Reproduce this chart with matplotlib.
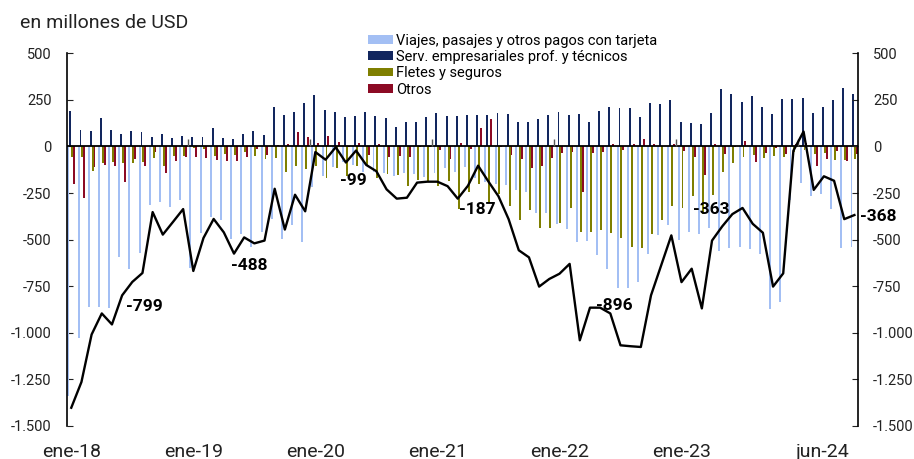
import numpy as np
import matplotlib
matplotlib.use("Agg")
import matplotlib.pyplot as plt
import matplotlib.transforms as mtransforms

plt.rcParams['font.family'] = ['Roboto', 'DejaVu Sans']
plt.rcParams['axes.unicode_minus'] = False

# datos mensuales ene-18 .. jun-24 (millones de USD)
nombres_mes = ['ene', 'feb', 'mar', 'abr', 'may', 'jun', 'jul', 'ago', 'sep', 'oct', 'nov', 'dic']
anios = ['18', '19', '20', '21', '22', '23', '24']
meses = [m + '-' + a for a in anios for m in nombres_mes][:78]

viajes = [-1338, -1030, -862, -864, -867, -591, -656, -572, -316, -298,
          -323, -289, -652, -466, -380, -393, -497, -469, -538, -457,
          -389, -497, -424, -511, -220, -161, -110, -85, -100, -135,
          -135, -145, -160, -145, -150, -165, -142, -117, -135, -111,
          -170, -188, -200, -205, -235, -245, -357, -358, -414, -441,
          -514, -505, -584, -658, -760, -760, -728, -575, -475, -420,
          -504, -459, -470, -438, -559, -545, -539, -548, -575, -871,
          -835, -289, -195, -267, -253, -337, -546, -538]
servicios = [191, 91, 85, 151, 91, 65, 82, 77, 53, 65,
             45, 56, 49, 49, 97, 43, 42, 66, 82, 61,
             214, 167, 185, 231, 277, 197, 187, 156, 165, 187,
             165, 151, 102, 131, 131, 157, 177, 163, 163, 167,
             169, 170, 180, 175, 130, 130, 146, 170, 184, 170,
             175, 130, 192, 212, 205, 205, 160, 231, 229, 250,
             131, 126, 120, 182, 311, 281, 237, 270, 210, 176,
             253, 253, 262, 177, 210, 250, 315, 280]
fletes = [-55, -55, -130, -90, -85, -90, -87, -85, -63, -104,
          -49, -52, -9, -13, -50, -42, -47, -31, -51, -65,
          -61, -136, -105, -121, -105, -170, -118, -160, -107, -106,
          -170, -150, -154, -210, -180, -189, -210, -185, -333, -246,
          -200, -300, -257, -318, -395, -343, -440, -440, -410, -330,
          -459, -459, -448, -462, -492, -538, -546, -472, -394, -322,
          -330, -268, -365, -262, -139, -90, -58, -48, -62, -49,
          -55, -29, -20, -40, -37, -75, -74, -67]
otros = [-202, -275, -110, -100, -104, -189, -69, -104, -29, -140,
         -77, -56, -57, -63, -70, -80, -79, -56, -11, -47,
         9, 12, 79, 50, 18, 55, 22, -5, 18, -44,
         15, -58, -50, -57, -3, -3, -18, -67, 20, -12,
         97, 148, -5, -48, -68, -118, -105, -62, -37, -30,
         -242, -33, -28, 14, -21, 14, 41, 14, 0, 14,
         -23, -54, -152, 14, -39, -4, 30, -86, -36, -9,
         -39, 15, 21, -104, -68, -23, -80, -41]
total = [-1402, -1264, -1009, -896, -955, -799, -727, -679, -352, -473,
         -405, -336, -668, -491, -389, -461, -575, -488, -520, -505,
         -227, -446, -259, -348, -30, -71, -4, -86, -22, -99,
         -133, -230, -280, -275, -194, -189, -189, -213, -280, -211,
         -103, -187, -267, -390, -557, -595, -752, -711, -683, -630,
         -1040, -865, -865, -896, -1067, -1072, -1076, -799, -638, -477,
         -728, -656, -869, -505, -429, -363, -330, -415, -463, -752,
         -681, -23, 80, -233, -160, -184, -390, -368]

series = [('Viajes, pasajes y otros pagos con tarjeta', viajes, '#A3BFF4'),
          ('Serv. empresariales prof. y técnicos', servicios, '#12265E'),
          ('Fletes y seguros', fletes, '#7F7F00'),
          ('Otros', otros, '#8C0A24')]

# etiquetas de datos: cada junio
etiquetas = [(i, total[i]) for i, m in enumerate(meses) if m.startswith('jun')]
desplaz = {'jun-18': (16, -8), 'jun-19': (4, -20), 'jun-20': (-9, -11),
           'jun-21': (-8, -20), 'jun-22': (3, 6), 'jun-23': (-15, 3),
           'jun-24': (17, -1)}

x = np.arange(len(meses))
fig = plt.figure(figsize=(9.14, 4.59), dpi=100)
ax = fig.add_axes([0.0733, 0.0719, 0.8654, 0.812])

offs = [-0.285, -0.095, 0.095, 0.285]
for (nom, vals, col), o in zip(series, offs):
    ax.bar(x + o, vals, width=0.19, color=col, label=nom, zorder=2,
           linewidth=0, antialiased=False)

ax.axhline(0, color='black', lw=1.3, zorder=3)
ax.vlines(np.arange(11.5, len(meses), 12), 0, 38, color='#555555', lw=1, zorder=3)
ax.plot(x, total, color='black', lw=1.7, zorder=4)

for i, v in etiquetas:
    ax.annotate(f'{v:.0f}', (i, v), xytext=desplaz[meses[i]], textcoords='offset points',
                ha='center', va='center', fontsize=12.5, fontweight='bold', zorder=6)

ax.set_xlim(-0.42, 77.35)
ax.set_ylim(-1500, 500)
yt = np.arange(-1500, 501, 250)
ylab = [f'{v:,.0f}'.replace(',', '.') for v in yt]
ax.set_yticks(yt)
ax.set_yticklabels(ylab)
ax.tick_params(axis='y', direction='in', length=4, pad=11, labelsize=10.5, colors='#222222')

xt = [0, 12, 24, 36, 48, 60, 77]
ax.set_xticks(xt)
ax.set_xticklabels([meses[i] for i in xt])
ax.tick_params(axis='x', length=0, pad=12, labelsize=14, colors='#222222')
ult = ax.get_xticklabels()[-1]
ult.set_horizontalalignment('right')
ult.set_transform(ult.get_transform() + mtransforms.ScaledTranslation(-5 / 100, 0, fig.dpi_scale_trans))

for s in ['top', 'bottom', 'right']:
    ax.spines[s].set_visible(False)
ax.spines['left'].set_linewidth(1.2)

ax2 = ax.twinx()
ax2.set_ylim(-1500, 500)
ax2.set_yticks(yt)
ax2.set_yticklabels(ylab)
ax2.tick_params(axis='y', direction='in', length=4, pad=11, labelsize=10.5, colors='#222222')
for s in ['top', 'bottom', 'left']:
    ax2.spines[s].set_visible(False)
ax2.spines['right'].set_linewidth(1.2)

fig.legend(*ax.get_legend_handles_labels(), loc='upper left', bbox_to_anchor=(0.4026, 0.927),
           frameon=False, fontsize=10.5, handlelength=1.7, handleheight=0.55,
           handletextpad=0.25, labelspacing=0.16, borderpad=0, borderaxespad=0)

fig.text(20 / 914, 1 - 23 / 459, 'en millones de USD', fontsize=14, va='center', color='#222222')

fig.savefig('out.png', dpi=100)
